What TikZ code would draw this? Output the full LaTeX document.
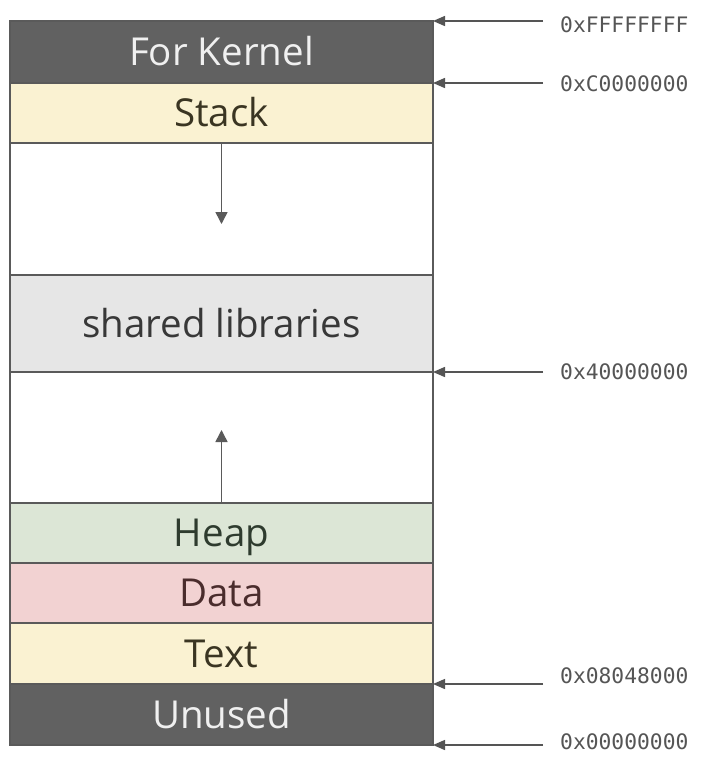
\documentclass[tikz,border=0pt]{standalone}
\usepackage{fontspec}
\setmainfont{Open Sans}
\newfontfamily\addrfont{DejaVu Sans Mono}
\usetikzlibrary{arrows.meta}
\definecolor{linegray}{HTML}{5A5A5A}
\definecolor{darkrow}{HTML}{616161}
\definecolor{yellowrow}{HTML}{FAF2D2}
\definecolor{grayrow}{HTML}{E6E6E6}
\definecolor{greenrow}{HTML}{DCE6D6}
\definecolor{pinkrow}{HTML}{F2D2D2}
\definecolor{lighttext}{HTML}{F0F0F0}
\definecolor{olivetext}{HTML}{3A3522}
\definecolor{greentext}{HTML}{2E3B2E}
\definecolor{redtext}{HTML}{4A2C2C}
\definecolor{graytext}{HTML}{383838}
\definecolor{addrgray}{HTML}{555555}
\tikzset{
  segbox/.style={draw=linegray, line width=1.4pt, minimum width=423pt, inner sep=0pt, outer sep=0pt, anchor=north, font=\fontsize{38.5}{42}\selectfont, text height=27.5pt, text depth=0pt},
  addrlabel/.style={anchor=west, inner sep=0pt, text=addrgray, font=\addrfont\fontsize{21.3}{24}\selectfont},
  addrptr/.style={draw=addrgray, line width=1.4pt, -{Triangle[length=12pt,width=10pt]}},
  growarrow/.style={draw=linegray, line width=1.5pt, -{Triangle[length=12pt,width=12pt]}}
}
\begin{document}
\begin{tikzpicture}[x=1pt,y=-1pt]
\useasboundingbox (0,0) rectangle (706,772);
\fill[white] (0,0) rectangle (706,772);
\node[segbox, fill=darkrow, text=lighttext, minimum height=62pt] (kernel) at (221.5,21) {For Kernel};
\node[segbox, fill=yellowrow, text=olivetext, minimum height=60pt] (stack) at (221.5,83) {Stack};
\node[segbox, fill=white, minimum height=132pt] (gapa) at (221.5,143) {};
\node[segbox, fill=grayrow, text=graytext, minimum height=97pt] (shared) at (221.5,275) {shared libraries};
\node[segbox, fill=white, minimum height=131pt] (gapb) at (221.5,372) {};
\node[segbox, fill=greenrow, text=greentext, minimum height=60pt] (heap) at (221.5,503) {Heap};
\node[segbox, fill=pinkrow, text=redtext, minimum height=60pt] (data) at (221.5,563) {Data};
\node[segbox, fill=yellowrow, text=olivetext, minimum height=61pt] (textseg) at (221.5,623) {Text};
\node[segbox, fill=darkrow, text=lighttext, minimum height=61pt] (unused) at (221.5,684) {Unused};

\coordinate (downend) at (221.5,224);
\coordinate (upend) at (221.5,430);
\draw[growarrow] (stack.south) -- (downend);
\draw[growarrow] (heap.north) -- (upend);

\node[addrlabel] (aF) at (560,24.5) {0xFFFFFFFF};
\node[addrlabel] (aC) at (560,84) {0xC0000000};
\node[addrlabel] (a4) at (560,372) {0x40000000};
\node[addrlabel] (a8) at (560,676) {0x08048000};
\node[addrlabel] (a0) at (560,742) {0x00000000};

\coordinate (sF) at (543,21);
\coordinate (sC) at (543,83);
\coordinate (s4) at (543,372);
\coordinate (s8) at (543,684);
\coordinate (s0) at (543,745);
\draw[addrptr] (sF) -- (sF -| kernel.east);
\draw[addrptr] (sC) -- (sC -| stack.east);
\draw[addrptr] (s4) -- (s4 -| gapb.east);
\draw[addrptr] (s8) -- (s8 -| unused.east);
\draw[addrptr] (s0) -- (s0 -| unused.east);
\end{tikzpicture}
\end{document}
